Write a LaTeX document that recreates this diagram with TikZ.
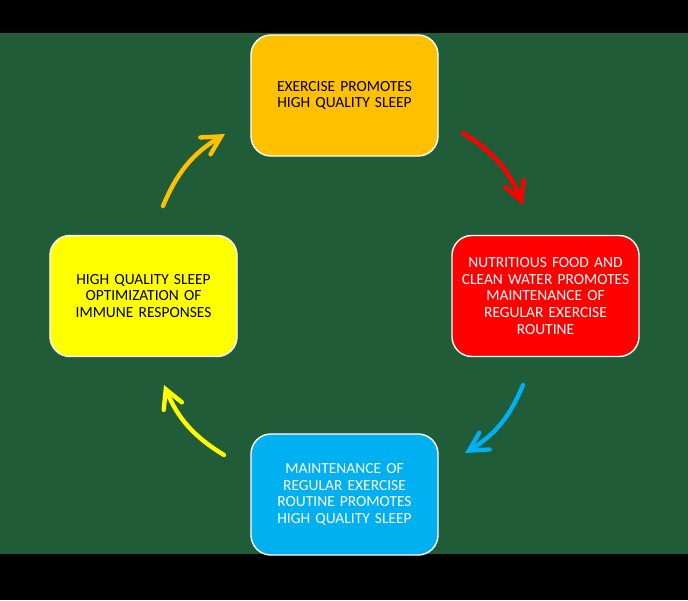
\documentclass[tikz,border=0pt]{standalone}
\usepackage{fontspec}
\setmainfont{Carlito}
\usetikzlibrary{arrows.meta}

\definecolor{marble}{RGB}{33,92,56}
\definecolor{boxorange}{RGB}{255,192,0}
\definecolor{boxred}{RGB}{255,0,0}
\definecolor{boxblue}{RGB}{0,176,240}
\definecolor{boxyellow}{RGB}{255,255,0}

\begin{document}
\begin{tikzpicture}[x=0.025cm,y=0.025cm,
  stage/.style={draw=white,line width=1pt,rounded corners=0.5cm,
    minimum width=4.675cm,minimum height=3.025cm,text width=4.2cm,
    align=center,font=\fontsize{11}{12}\selectfont},
  flow/.style={line width=3.1pt,line cap=round,
    -{Straight Barb[length=13pt,width=14pt,line cap=round]},bend left=18}]
% Background
\fill[black] (0,0) rectangle (688,600);
\fill[marble] (0,46) rectangle (688,567);

% Stages of the cycle
\node[stage,fill=boxorange,text=black] (exercise) at (344.5,504.5)
  {EXERCISE PROMOTES\\HIGH QUALITY SLEEP};
\node[stage,fill=boxred,text=white] (nutrition) at (545.5,304)
  {NUTRITIOUS FOOD AND\\CLEAN WATER PROMOTES\\MAINTENANCE OF\\REGULAR EXERCISE\\ROUTINE};
\node[stage,fill=boxblue,text=white] (routine) at (344.5,105.5)
  {MAINTENANCE OF\\REGULAR EXERCISE\\ROUTINE PROMOTES\\HIGH QUALITY SLEEP};
\node[stage,fill=boxyellow,text=black] (sleep) at (143.5,304)
  {HIGH QUALITY SLEEP\\OPTIMIZATION OF\\IMMUNE RESPONSES};

% Arrow ends
\coordinate (redA) at (463,467);
\coordinate (redB) at (523,395);
\coordinate (blueA) at (523,215);
\coordinate (blueB) at (465,147);
\coordinate (yellowA) at (224,145);
\coordinate (yellowB) at (164,215);
\coordinate (orangeA) at (163,394);
\coordinate (orangeB) at (225,466);

% Cycle arrows
\draw[flow,boxred] (redA) to (redB);
\draw[flow,boxblue] (blueA) to (blueB);
\draw[flow,boxyellow] (yellowA) to (yellowB);
\draw[flow,boxorange] (orangeA) to (orangeB);
\end{tikzpicture}
\end{document}
